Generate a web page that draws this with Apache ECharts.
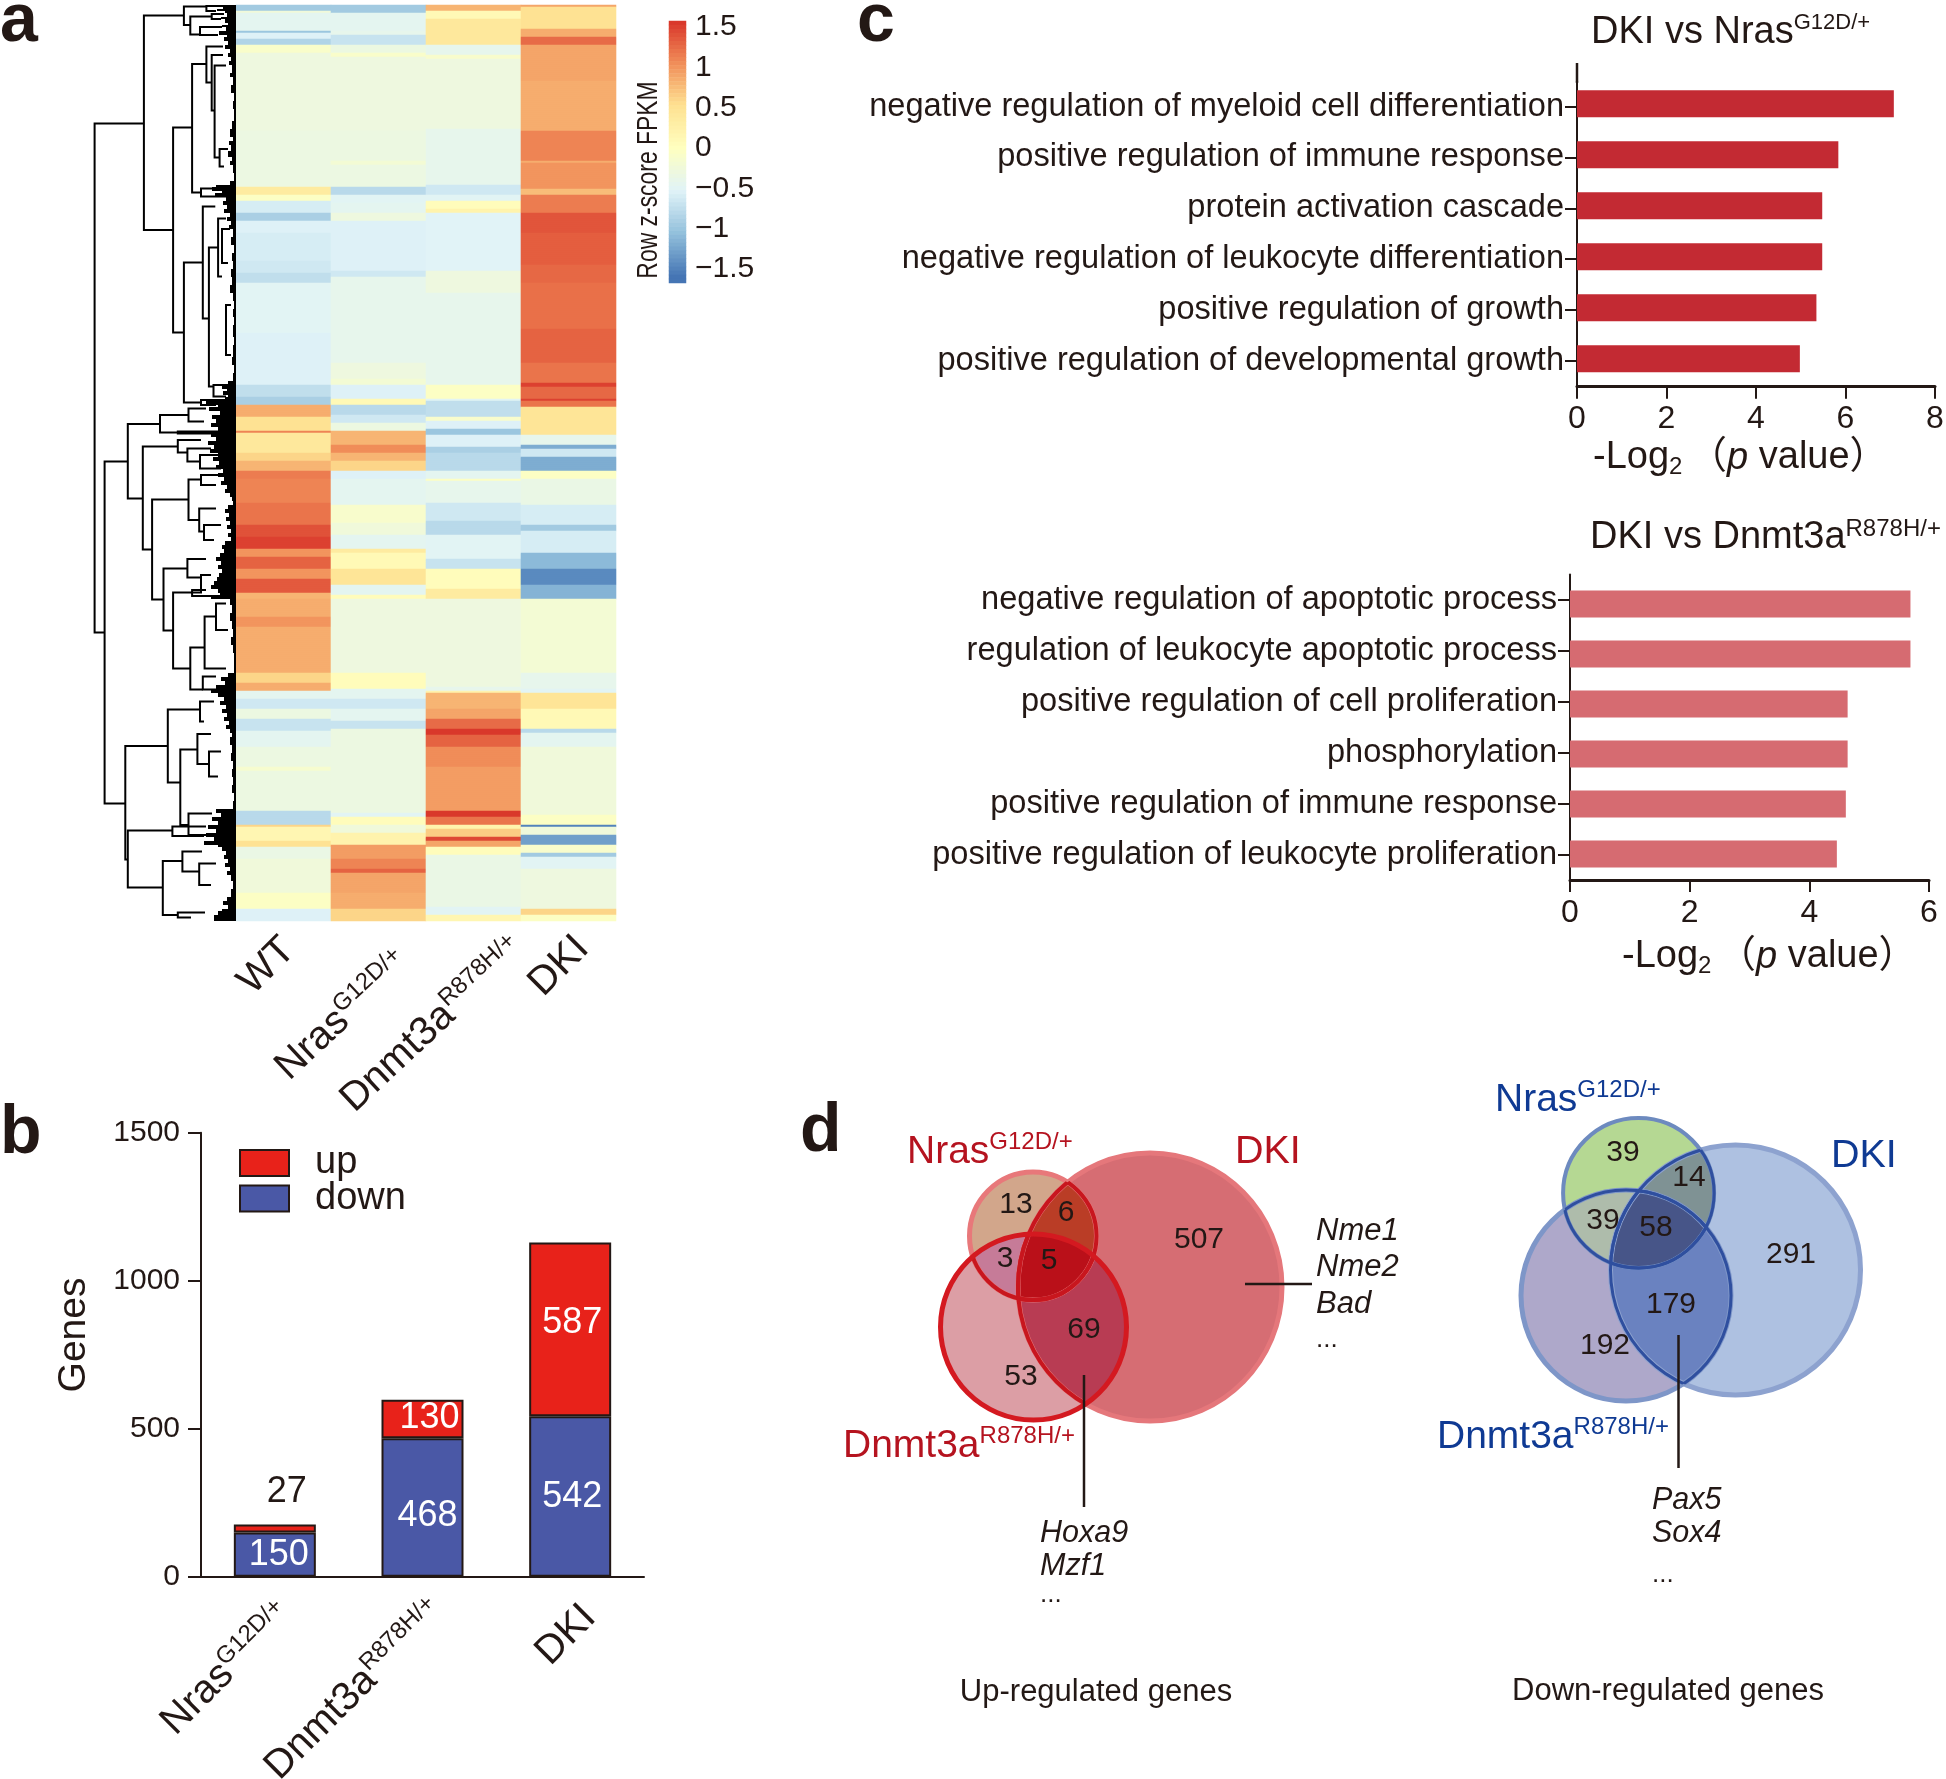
<!DOCTYPE html>
<html><head><meta charset="utf-8"><title>Figure</title>
<style>html,body{margin:0;padding:0;background:#fff}#c{width:1946px;height:1779px}</style>
<script src="https://cdn.jsdelivr.net/npm/echarts@6/dist/echarts.min.js"></script></head>
<body><div id="c"></div>
<script>
// ---------- panel a: heatmap, run-length bands [endRow, z-score]
const heatColumns = ['WT','Nras','Dnmt3a','DKI'];
const heatSup = ['', 'G12D/+', 'R878H/+', ''];
const rowCount = 458;
const wtBands = [[3,-.95],[4,-.25],[13,-.46],[14,-1],[17,-.55],[20,-.85],[24,-.1],[63,-.3],[91,-.33],[95,.35],[98,-.05],[104,-.6],[108,-.9],[114,-.55],[128,-.6],[134,-.65],[139,-.75],[164,-.5],[190,-.55],[196,-.75],[200,-.9],[206,.85],[213,.5],[214,1.1],[224,.4],[228,.6],[233,.8],[237,1.15],[249,1.1],[260,1.2],[266,1.4],[272,1.5],[276,1.0],[282,1.3],[287,1.0],[294,1.35],[297,.8],[306,.85],[311,1.0],[334,.85],[339,.6],[343,.85],[347,-.46],[352,-.65],[357,-.32],[363,-.7],[371,-.46],[381,-.32],[383,-.15],[403,-.32],[410,-.8],[411,.6],[418,.15],[421,.5],[427,-.36],[444,-.25],[452,-.05],[458,-.55]];
const nrasBands = [[4,-.95],[13,-.46],[15,-.42],[20,-.7],[24,-.32],[26,-.1],[63,-.3],[78,-.32],[80,-.2],[91,-.33],[95,-.8],[99,-.5],[104,-.46],[108,-.3],[133,-.55],[136,-.65],[179,-.42],[187,-.3],[190,-.2],[197,-.55],[200,.1],[205,-.8],[209,-.65],[213,-.32],[220,.8],[224,1.05],[228,.8],[233,.6],[237,-.55],[250,-.46],[259,-.12],[265,-.25],[272,-.46],[274,.35],[282,.1],[290,.45],[295,-.46],[297,.05],[334,-.3],[342,.05],[347,-.46],[352,-.65],[358,-.46],[362,-.7],[404,-.32],[406,-.5],[410,.05],[414,-.25],[420,.2],[427,.95],[432,1.1],[434,1.3],[444,.9],[452,.85],[458,.6]];
const dnmtBands = [[3,.8],[7,.1],[20,.4],[25,-.42],[27,-.12],[62,-.3],[90,-.42],[95,-.65],[98,-.5],[102,.05],[104,.2],[133,-.52],[144,-.3],[190,-.42],[197,-.05],[198,-.5],[206,-.75],[208,-.12],[212,-.55],[215,-1],[221,-.55],[224,-.9],[233,-.8],[237,-.46],[238,-.05],[249,-.42],[258,-.65],[265,-.8],[277,-.5],[282,-.7],[292,.05],[297,.35],[341,-.3],[343,-.42],[344,.2],[352,.8],[357,.9],[362,1.25],[365,1.55],[371,1.3],[381,1.05],[403,.95],[406,1.55],[410,1.2],[412,.2],[416,.65],[418,1.45],[421,.9],[425,.05],[451,-.36],[455,-.5],[458,.15]];
const dkiBands = [[1,.9],[12,.5],[16,.85],[20,1.25],[38,.9],[63,.85],[78,1.1],[79,.85],[92,1.0],[95,.75],[104,1.15],[114,1.38],[130,1.33],[139,1.27],[162,1.22],[179,1.3],[189,1.2],[191,1.5],[197,1.27],[198,1.5],[201,1.2],[215,.45],[220,-.42],[222,-1.2],[226,-.65],[233,-1.2],[237,-.05],[250,-.36],[260,-.6],[263,-.95],[274,-.6],[282,-1.1],[290,-1.45],[297,-1.15],[334,-.2],[342,-.42],[344,-.5],[352,.45],[362,.1],[364,-.8],[371,-.46],[405,-.25],[410,-.05],[411,-1.5],[415,-.25],[420,-1.3],[424,-.12],[426,-.95],[432,-.5],[452,-.3],[455,.6],[458,-.05]];
const colorbarTickValues = ['1.5','1','0.5','0','-0.5','-1','-1.5'];

// dendrogram links: [height, rowTop, rowBottom, heightOfTopChild, heightOfBottomChild]
const dendroLinks = [[141.4,59.2,313.7,92.1,131.4],[92.1,5.3,112.5,52.1,62.9],[52.1,.8,10,29.6,45.7],[45.7,5.8,14.7,24.3,36],[29.6,.5,3,14,20],[36,11,15,14,18],[24.3,4.5,7,12,15],
[62.9,61.3,163.7,43.9,52.1],[43.9,29.5,93.7,29.6,35],[29.6,20.8,38.7,13,24.3],[24.3,25,52.8,13,21.4],[21.4,30.3,76.2,10,16.4],[16.4,72,80.8,8,12],[35,91.7,95.8,12,10],
[52.1,128.8,198.7,33.2,35],[33.2,100.8,156.7,20.7,27.1],[27.1,121.2,190.8,17.9,22.5],[17.9,106.7,135.8,10,14],[14,112,129,6,8],[10,150,175,5,5],[35,197.5,200,15,20],[22.5,190,195.8,8,10],
[131.4,228.3,399.2,108.2,110.7],[108.2,209.5,246.7,76,93.2],[76,205,213.7,47.5,58.2],[47.5,201.7,208.3,30,32],[58.2,213.3,214.2,15,15],[93.2,220.8,272.2,58.2,83.9],[58.2,217.5,223.7,35,48.6],[48.6,221.7,228.3,25,36],[36,225,231.7,15,15],
[83.9,247.2,297.2,47.5,72.5],[47.5,237.2,257.5,35,36.8],[35,235,240,17,20],[36.8,251.7,263.3,20,32],[32,260,267.5,15,22],[72.5,281.7,312.8,48.6,62.9],[48.6,277,286.3,30,35],[35,285,293.7,25,45],[43.9,292.5,295.5,30,15],[62.9,293.7,331.7,43.9,45.7],[45.7,321.2,342.2,31.4,33.2],[31.4,305.8,331.7,20,10],[20,299.2,312.5,10,8],[33.2,335.8,342.2,20,8],
[110.7,370.5,427.2,68.2,108.2],[68.2,352.2,388.8,36,55.7],[36,348.3,358.3,22,32],[55.7,372.2,410,38.6,47.5],[38.6,364.5,379.5,25,27],[27,373.3,385.8,15,18],[47.5,404.2,415,24,30],[108.2,412.8,441.3,63.6,73.2],[63.6,410.8,415.5,30,32],[73.2,428,455,53.6,58.2],[53.6,423.3,433.3,34,36.8],[36.8,429.2,440,20,25],[58.2,453.8,456.2,31,45]];
// dense leaf comb of the dendrogram: [endRow, depth]
const leafComb = [[1,20],[2,13],[3,19],[4,11],[6,9],[7,15],[9,11],[10,8],[11,14],[13,10],[15,17],[16,9],[18,12],[20,8],[22,11],[24,6],[26,8],[28,5],[30,7],[34,4],[36,6],[40,3],[44,5],[48,2],[52,3],[58,2],[62,4],[66,6],[68,3],[70,7],[73,5],[76,8],[78,4],[80,6],[84,3],[88,2],[90,6],[91,20],[93,24],[94,14],[96,21],[98,10],[100,13],[102,9],[104,12],[106,6],[108,9],[110,5],[112,7],[116,3],[120,5],[124,2],[128,4],[132,3],[136,5],[140,4],[144,6],[148,3],[152,2],[156,3],[160,2],[166,3],[170,2],[176,3],[180,4],[184,2],[188,3],[190,8],[192,14],[193,9],[195,13],[196,8],[197,11],[198,22],[200,30],[201,18],[203,27],[205,16],[207,24],[209,20],[211,25],[213,18],[216,25],[218,20],[220,28],[222,22],[224,26],[226,18],[228,23],[230,17],[232,20],[234,13],[236,18],[238,12],[240,15],[242,9],[244,11],[246,6],[248,4],[250,3],[252,8],[254,11],[256,7],[258,10],[260,6],[262,9],[264,5],[266,8],[268,5],[270,11],[272,14],[274,12],[276,16],[278,20],[280,15],[282,18],[284,14],[286,17],[288,19],[290,22],[292,25],[294,18],[296,16],[297,25],[300,6],[304,4],[308,6],[312,4],[316,3],[320,5],[324,3],[328,2],[334,2],[336,8],[338,15],[340,11],[342,20],[344,25],[346,18],[348,12],[350,16],[352,10],[354,14],[356,9],[358,12],[360,7],[362,10],[364,6],[366,4],[370,6],[374,4],[378,5],[382,3],[386,4],[390,3],[394,4],[398,2],[402,3],[404,20],[406,15],[408,24],[410,18],[412,28],[414,20],[416,30],[418,22],[420,32],[421,18],[423,14],[425,10],[427,12],[429,8],[431,11],[433,6],[435,9],[438,5],[442,3],[446,5],[448,9],[450,13],[452,8],[453,14],[455,18],[458,22]];

// ---------- panel b
const geneGroups = ['Nras','Dnmt3a','DKI'];
const geneGroupSup = ['G12D/+','R878H/+',''];
const downGenes = [150,468,542];
const upGenes = [27,130,587];

// ---------- panel c
const goTopTerms = ['negative regulation of myeloid cell differentiation','positive regulation of immune response','protein activation cascade','negative regulation of leukocyte differentiation','positive regulation of growth','positive regulation of developmental growth'];
const goTopValues = [7.08,5.84,5.48,5.48,5.35,4.98];
const goBottomTerms = ['negative regulation of apoptotic process','regulation of leukocyte apoptotic process','positive regulation of cell proliferation','phosphorylation','positive regulation of immune response','positive regulation of leukocyte proliferation'];
const goBottomValues = [5.69,5.69,4.64,4.64,4.61,4.46];

// ---------- panel d: circles [cx, cy, rx, ry] and region counts [x, y, count]
const vennUpSets = {DKI:[1150,1287,132,134],Nras:[1033,1236,63.5,64],Dnmt:[1033.5,1327,93,93]};
const vennDownSets = {DKI:[1735.5,1270,125,125],Nras:[1638.6,1193,75.5,75],Dnmt:[1626,1295.5,105,105.5]};
const vennUpCounts = [[1016,1205,13],[1066,1213,6],[1005,1259,3],[1049,1261,5],[1199,1240,507],[1084,1330,69],[1021,1377,53]];
const vennDownCounts = [[1623,1153,39],[1689,1178,14],[1603,1221,39],[1656,1228,58],[1791,1255,291],[1671,1305,179],[1605,1346,192]];
const leaderLines = [[1245,1284,1312,1284],[1084,1375,1084,1507],[1678.5,1335,1678.5,1468],[1577,63,1577,83]];

const FF = '"Liberation Sans", Arial, sans-serif';
const INK = '#231815';
function expand(b){const o=[];let r=0;for(const [end,z] of b){while(r<end){o.push(z);r++;}}return o;}
const heatCols=[wtBands,nrasBands,dnmtBands,dkiBands].map(expand);
const heatData=[];heatCols.forEach((col,c)=>col.forEach((z,r)=>heatData.push([c,r,z])));
const rowNames=[];for(let i=0;i<rowCount;i++)rowNames.push(String(i));
const barCats=[];for(let i=0;i<65;i++)barCats.push((1.55-i*0.05).toFixed(2));
const barData=barCats.map((v,i)=>[0,i,parseFloat(v)]);

const grids=[],xAxes=[],yAxes=[],series=[];
function addGrid(g,x,y){grids.push(Object.assign({outerBoundsMode:'none'},g));const i=grids.length-1;xAxes.push(Object.assign({gridIndex:i},x));yAxes.push(Object.assign({gridIndex:i},y));return i;}
const hidden={show:false};
const lineStyle={color:INK,width:2};

// heatmap
const gHeat=addGrid({left:236,top:5,width:380,height:916},
 {type:'category',data:heatColumns,axisLine:hidden,axisTick:hidden,splitLine:hidden,axisLabel:hidden},
 {type:'category',data:rowNames,inverse:true,show:false});
const heatIdx=series.length;
series.push({type:'heatmap',xAxisIndex:gHeat,yAxisIndex:gHeat,data:heatData,progressive:0,itemStyle:{borderWidth:0},emphasis:{disabled:true},silent:true});

// colour bar
const gBar=addGrid({left:669,top:21,width:17,height:262},
 {type:'category',data:['z'],show:false},
 {type:'category',data:barCats,inverse:true,position:'right',axisLine:hidden,axisTick:hidden,
  axisLabel:{interval:(i,v)=>colorbarTickValues.indexOf(String(parseFloat(v)))>=0,margin:9,fontSize:30,fontFamily:FF,color:INK,
   formatter:v=>String(parseFloat(v)).replace('-','\u2212')}});
const barIdx=series.length;
series.push({type:'heatmap',xAxisIndex:gBar,yAxisIndex:gBar,data:barData,progressive:0,emphasis:{disabled:true},silent:true});

// dendrogram
const gDen=addGrid({left:86,top:5,width:150,height:916},
 {type:'value',min:0,max:150,inverse:true,show:false},{type:'value',min:0,max:rowCount,inverse:true,show:false});
series.push({type:'custom',xAxisIndex:gDen,yAxisIndex:gDen,clip:false,silent:true,data:leafComb,
 renderItem:(p,api)=>{const i=p.dataIndex,start=i?leafComb[i-1][0]:0,[end,d]=leafComb[i];const a=api.coord([d,start]),b=api.coord([0,end]);
  return {type:'rect',shape:{x:a[0],y:a[1],width:b[0]-a[0],height:b[1]-a[1]},style:{fill:'#000'}};}});
series.push({type:'custom',xAxisIndex:gDen,yAxisIndex:gDen,clip:false,silent:true,data:dendroLinks,
 renderItem:(p,api)=>{const [h,t,b,ht,hb]=dendroLinks[p.dataIndex];
  return {type:'polyline',shape:{points:[api.coord([ht,t]),api.coord([h,t]),api.coord([h,b]),api.coord([hb,b])]},style:{stroke:'#000',lineWidth:2,fill:null}};}});

// stacked bars
const gB=addGrid({left:201,top:1132.8,width:443,height:444},
 {type:'category',data:geneGroups,axisLine:{lineStyle},axisTick:{alignWithLabel:true,length:14,lineStyle},axisLabel:hidden},
 {type:'value',min:0,max:1500,interval:500,splitLine:hidden,axisLine:{show:true,lineStyle},axisTick:{show:true,length:13,lineStyle},
  axisLabel:{margin:21,fontSize:30,fontFamily:FF,color:INK,formatter:v=>String(v)}});
const barBorder={borderColor:INK,borderWidth:2};
const whiteLab={show:true,color:'#fff',fontSize:36,fontFamily:FF};
series.push({name:'down',type:'bar',stack:'g',xAxisIndex:gB,yAxisIndex:gB,barWidth:82,itemStyle:Object.assign({color:'#4a58a6'},barBorder),label:whiteLab,
 data:[{value:downGenes[0],label:{offset:[4,0]}},{value:downGenes[1],label:{offset:[5,9]}},{value:downGenes[2],label:{offset:[2,0]}}]});
series.push({name:'up',type:'bar',stack:'g',xAxisIndex:gB,yAxisIndex:gB,barWidth:82,itemStyle:Object.assign({color:'#e8221a'},barBorder),label:whiteLab,
 data:[{value:upGenes[0],label:{position:'top',color:INK,offset:[12,-9]}},{value:upGenes[1],label:{offset:[7,-1]}},{value:upGenes[2],label:{offset:[2,-6]}}]});

// GO bars: one grid for bars and value axis, one for the term labels
function goPanel(terms,values,color,o){
 const g=addGrid({left:o.x,top:o.barTop,width:o.w,height:o.barH},
  {type:'value',min:0,max:o.max,interval:2,offset:o.axisOff,splitLine:hidden,axisLine:{show:true,lineStyle:{color:INK,width:3}},axisTick:{show:true,length:12,lineStyle},
   axisLabel:{margin:o.margin,fontSize:32,fontFamily:FF,color:INK}},
  {type:'category',data:terms,inverse:true,show:false});
 series.push({type:'bar',xAxisIndex:g,yAxisIndex:g,barWidth:27,data:values,itemStyle:{color},silent:true});
 addGrid({left:o.x,top:o.lblTop,width:o.w,height:o.lblH},
  {type:'value',show:false,min:0,max:1},
  {type:'category',data:terms,inverse:true,axisLine:{show:true,lineStyle},axisTick:{show:true,length:12,alignWithLabel:true,lineStyle},
   axisLabel:{interval:0,margin:13,fontSize:32.6,fontFamily:FF,color:INK,padding:o.pad}});
}
goPanel(goTopTerms,goTopValues,'#c32a33',{x:1577,w:358,barTop:78.2,barH:306,axisOff:2.5,max:8,margin:16,lblTop:81.2,lblH:305,pad:[10,0,0,0]});
goPanel(goBottomTerms,goBottomValues,'#d66b71',{x:1570,w:359,barTop:579,barH:300,axisOff:1,max:6,margin:17,lblTop:574.5,lblH:306,pad:[0,0,0,0]});

// Venn overlay grid: axis units are read-off positions
const gV=addGrid({left:0,top:0,width:1946,height:1779},
 {type:'value',min:0,max:1946,show:false},{type:'value',min:0,max:1779,inverse:true,show:false});
function vennSeries(sets,layers){
 const ell=(n,api)=>{const s=sets[n],c=api.coord([s[0],s[1]]),r=api.size([s[2],s[3]]);return {cx:c[0],cy:c[1],rx:r[0],ry:r[1]};};
 series.push({type:'custom',xAxisIndex:gV,yAxisIndex:gV,clip:false,silent:true,data:layers.map((l,i)=>[i]),
  renderItem:(p,api)=>{const l=layers[p.dataIndex];
   let el={type:'ellipse',shape:ell(l.draw,api),style:l.stroke?{fill:null,stroke:l.stroke,lineWidth:l.lw}:{fill:l.fill}};
   (l.clip||[]).forEach(c=>{el={type:'group',clipPath:{type:'ellipse',shape:ell(c,api)},children:[el]};});
   return el;}});
}
vennSeries(vennUpSets,[
 {draw:'DKI',fill:'#d66d73'},{draw:'Nras',fill:'#d2a68b'},{draw:'Dnmt',fill:'#dc9ea5'},
 {draw:'Nras',clip:['DKI'],fill:'#ba3d26'},{draw:'Nras',clip:['Dnmt'],fill:'#c67b98'},{draw:'Dnmt',clip:['DKI'],fill:'#b83c53'},
 {draw:'Nras',clip:['DKI','Dnmt'],fill:'#ba1019'},
 {draw:'DKI',stroke:'#e5777b',lw:5},{draw:'Nras',stroke:'#e8787a',lw:5},
 {draw:'Nras',clip:['DKI'],stroke:'#c8161e',lw:4},{draw:'Nras',clip:['Dnmt'],stroke:'#c8161e',lw:4},
 {draw:'DKI',clip:['Dnmt'],stroke:'#c8161e',lw:4},{draw:'DKI',clip:['Nras'],stroke:'#c8161e',lw:4},
 {draw:'Dnmt',stroke:'#d41920',lw:5}]);
vennSeries(vennDownSets,[
 {draw:'DKI',fill:'#aec1e1'},{draw:'Dnmt',fill:'#aea8ca'},{draw:'Nras',fill:'#b5d893'},
 {draw:'Nras',clip:['DKI'],fill:'#7f9294'},{draw:'Nras',clip:['Dnmt'],fill:'#aebcab'},{draw:'Dnmt',clip:['DKI'],fill:'#6a82c0'},
 {draw:'Nras',clip:['DKI','Dnmt'],fill:'#475588'},
 {draw:'DKI',stroke:'#8da2cf',lw:5},{draw:'Dnmt',stroke:'#7e96c8',lw:5},{draw:'Nras',stroke:'#6d8abf',lw:4},
 {draw:'Nras',clip:['DKI'],stroke:'#2f4f9f',lw:3},{draw:'Nras',clip:['Dnmt'],stroke:'#2f4f9f',lw:3},
 {draw:'DKI',clip:['Dnmt'],stroke:'#2f4f9f',lw:3},{draw:'DKI',clip:['Nras'],stroke:'#2f4f9f',lw:3},
 {draw:'Dnmt',clip:['DKI'],stroke:'#2f4f9f',lw:3},{draw:'Dnmt',clip:['Nras'],stroke:'#2f4f9f',lw:3}]);
series.push({type:'scatter',xAxisIndex:gV,yAxisIndex:gV,symbolSize:0,silent:true,itemStyle:{opacity:1},data:vennUpCounts.concat(vennDownCounts),
 label:{show:true,position:'inside',opacity:1,formatter:p=>String(p.value[2]),fontSize:30,fontFamily:FF,color:INK}});
series.push({type:'custom',xAxisIndex:gV,yAxisIndex:gV,clip:false,silent:true,data:leaderLines,
 renderItem:(p,api)=>{const l=leaderLines[p.dataIndex],a=api.coord([l[0],l[1]]),b=api.coord([l[2],l[3]]);
  return {type:'line',shape:{x1:a[0],y1:a[1],x2:b[0],y2:b[1]},style:{stroke:INK,lineWidth:2.5}};}});

// free text
function txt(t,x,y,o){o=o||{};const rich=o.rich;
 return {type:'text',x,y,scaleX:o.sx||1,rotation:(o.rot||0)*Math.PI/180,z:100,silent:true,style:Object.assign({text:t,align:o.align||'left',verticalAlign:'middle',fontSize:o.size||30,fontFamily:FF,fontWeight:o.weight||'normal',fontStyle:o.italic?'italic':'normal',fill:o.color||INK},rich?{rich}:{})};}
function supRich(c,n,s){return {n:{fontSize:n,fontFamily:FF,fill:c,lineHeight:n+4},s:{fontSize:s,fontFamily:FF,fill:c,verticalAlign:'top',lineHeight:s+2}};}
function logRich(){return {n:{fontSize:38,fontFamily:'"Liberation Sans","Noto Sans CJK SC",sans-serif',fill:INK,lineHeight:42},
 i:{fontSize:38,fontFamily:FF,fontStyle:'italic',fill:INK,lineHeight:42},s:{fontSize:24,fontFamily:FF,fill:INK,verticalAlign:'bottom',lineHeight:24}};}
const RED='#b5131f',BLUE='#0f3a93';
function genoLabel(name,sup,x,y,rot){return txt('{n|'+name+'}'+(sup?'{s|'+sup+'}':''),x,y,{rot,align:'center',rich:supRich(INK,40,24)});}
const heatLabelCenters=[[267,966],[343,1016],[433,1025],[559,966]];
const barLabelCenters=[[227,1669],[355,1690],[566,1635]];
const graphic=[
 txt('a',0,22,{size:68,weight:'bold'}),txt('b',0,1134,{size:68,weight:'bold'}),txt('c',857,22,{size:68,weight:'bold'}),txt('d',800,1132,{size:68,weight:'bold'}),
 txt('Row z-score FPKM',649,180,{size:29,sx:.79,rot:90,align:'center'}),
 txt('Genes',74,1335,{size:39,rot:90,align:'center'}),
 txt('{n|DKI vs Nras}{s|G12D/+}',1591,33,{rich:supRich(INK,38,22)}),
 txt('{n|DKI vs Dnmt3a}{s|R878H/+}',1590,538,{rich:supRich(INK,38,24)}),
 txt('{n|-Log}{s|2 }{n|\uFF08}{i|p}{n| value\uFF09}',1593,458,{rich:logRich()}),
 txt('{n|-Log}{s|2 }{n|\uFF08}{i|p}{n| value\uFF09}',1622,957,{rich:logRich()}),
 txt('{n|Nras}{s|G12D/+}',907,1152,{rich:supRich(RED,39,24)}),
 txt('DKI',1235,1152,{size:39.5,color:RED}),
 txt('{n|Dnmt3a}{s|R878H/+}',843,1446,{rich:supRich(RED,39,24)}),
 txt('{n|Nras}{s|G12D/+}',1495,1100,{rich:supRich(BLUE,39,24)}),
 txt('DKI',1831,1156,{size:39.5,color:BLUE}),
 txt('{n|Dnmt3a}{s|R878H/+}',1437,1437,{rich:supRich(BLUE,39,24)}),
 txt('Nme1',1316,1231,{italic:true,size:31}),txt('Nme2',1316,1267,{italic:true,size:31}),txt('Bad',1316,1304,{italic:true,size:31}),txt('...',1316,1340,{size:26}),
 txt('Hoxa9',1040,1534,{italic:true,size:30.5}),txt('Mzf1',1040,1567,{italic:true,size:30.5}),txt('...',1040,1595,{size:26}),
 txt('Pax5',1652,1501,{italic:true,size:30.5}),txt('Sox4',1652,1534,{italic:true,size:30.5}),txt('...',1652,1575,{size:26}),
 txt('Up-regulated genes',1096,1692,{size:31,align:'center'}),
 txt('Down-regulated genes',1668,1691,{size:31,align:'center'})
];
heatColumns.forEach((n,i)=>graphic.push(genoLabel(n,heatSup[i],heatLabelCenters[i][0],heatLabelCenters[i][1],i===1||i===2?43:45)));
geneGroups.forEach((n,i)=>graphic.push(genoLabel(n,geneGroupSup[i],barLabelCenters[i][0],barLabelCenters[i][1],45)));

const chart=echarts.init(document.getElementById('c'),null,{renderer:'canvas'});
chart.setOption({animation:false,backgroundColor:'#fff',grid:grids,xAxis:xAxes,yAxis:yAxes,series,graphic,
 visualMap:{show:false,type:'continuous',min:-1.6,max:1.6,dimension:2,seriesIndex:[heatIdx,barIdx],
  inRange:{color:['#4575b4','#91bfdb','#e0f3f8','#ffffbf','#fee090','#f08a57','#d73027']}},
 legend:{data:['up','down'],orient:'vertical',left:239,top:1144,padding:0,icon:'rect',itemWidth:49,itemHeight:26,itemGap:-2.5,
  textStyle:{fontSize:38,fontFamily:FF,color:INK,padding:[0,0,0,21]}},
 tooltip:{show:false}});
</script></body></html>
